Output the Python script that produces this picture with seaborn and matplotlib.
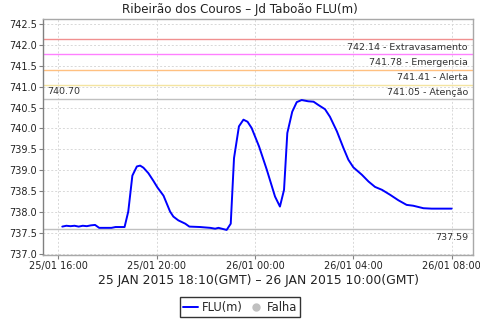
import matplotlib
matplotlib.use("Agg")
import matplotlib.pyplot as plt
import matplotlib.dates as mdates
from matplotlib.lines import Line2D
import pandas as pd
import seaborn as sns

# ---- data ----
times = [
    "2015-01-25 16:10", "2015-01-25 16:20", "2015-01-25 16:30", "2015-01-25 16:40",
    "2015-01-25 16:50", "2015-01-25 17:00", "2015-01-25 17:10", "2015-01-25 17:20",
    "2015-01-25 17:30", "2015-01-25 17:40", "2015-01-25 17:50", "2015-01-25 18:00",
    "2015-01-25 18:10", "2015-01-25 18:20", "2015-01-25 18:30", "2015-01-25 18:42",
    "2015-01-25 18:51", "2015-01-25 19:01", "2015-01-25 19:12", "2015-01-25 19:20",
    "2015-01-25 19:28", "2015-01-25 19:40", "2015-01-25 19:52", "2015-01-25 20:02",
    "2015-01-25 20:17", "2015-01-25 20:33", "2015-01-25 20:41", "2015-01-25 20:53",
    "2015-01-25 21:10", "2015-01-25 21:20", "2015-01-25 21:46", "2015-01-25 22:11",
    "2015-01-25 22:23", "2015-01-25 22:31", "2015-01-25 22:51", "2015-01-25 23:01",
    "2015-01-25 23:09", "2015-01-25 23:21", "2015-01-25 23:32", "2015-01-25 23:42",
    "2015-01-25 23:52", "2015-01-26 00:10", "2015-01-26 00:29", "2015-01-26 00:49",
    "2015-01-26 01:01", "2015-01-26 01:11", "2015-01-26 01:19", "2015-01-26 01:31",
    "2015-01-26 01:42", "2015-01-26 01:54", "2015-01-26 02:10", "2015-01-26 02:23",
    "2015-01-26 02:35", "2015-01-26 02:51", "2015-01-26 03:03", "2015-01-26 03:20",
    "2015-01-26 03:36", "2015-01-26 03:48", "2015-01-26 04:00", "2015-01-26 04:21",
    "2015-01-26 04:37", "2015-01-26 04:53", "2015-01-26 05:10", "2015-01-26 05:30",
    "2015-01-26 05:50", "2015-01-26 06:10", "2015-01-26 06:26", "2015-01-26 06:51",
    "2015-01-26 07:11", "2015-01-26 08:00",
]
flu = [
    737.65, 737.67, 737.66, 737.67,
    737.65, 737.67, 737.66, 737.68,
    737.69, 737.62, 737.62, 737.62,
    737.62, 737.64, 737.64, 737.64,
    738.01, 738.87, 739.09, 739.11,
    739.06, 738.93, 738.75, 738.59,
    738.39, 738.01, 737.89, 737.80,
    737.72, 737.65, 737.64, 737.62,
    737.60, 737.62, 737.57, 737.72,
    739.29, 740.05, 740.21, 740.16,
    740.01, 739.57, 739.01, 738.37,
    738.13, 738.53, 739.89, 740.40,
    740.63, 740.68, 740.65, 740.64,
    740.56, 740.46, 740.28, 739.93,
    739.53, 739.25, 739.07, 738.89,
    738.73, 738.60, 738.53, 738.41,
    738.28, 738.17, 738.15, 738.09,
    738.08, 738.08,
]
threshold_values = [742.14, 741.78, 741.41, 741.05]
threshold_names = ["Extravasamento", "Emergencia", "Alerta", "Atenção"]
threshold_colors = ["#f09090", "#ff80ff", "#ffc080", "#f4e4a0"]
max_value = 740.70
min_value = 737.59

title = "Ribeirão dos Couros – Jd Taboão FLU(m)"
xlabel = "25 JAN 2015 18:10(GMT) – 26 JAN 2015 10:00(GMT)"
tick_times = ["2015-01-25 16:00", "2015-01-25 20:00", "2015-01-26 00:00",
              "2015-01-26 04:00", "2015-01-26 08:00"]

df = pd.DataFrame({"time": pd.to_datetime(times), "FLU(m)": flu})

sns.set_theme(style="white")
plt.rcParams["font.family"] = ["DejaVu Sans"]

fig = plt.figure(figsize=(4.8, 3.2), dpi=100)
ax = fig.add_axes([43 / 480, 1 - 255 / 320, (473 - 43) / 480, (255 - 19) / 320])

# threshold lines
for v, n, c in zip(threshold_values, threshold_names, threshold_colors):
    ax.axhline(v, color=c, lw=1.0, zorder=2)
    ax.annotate(f"{v:.2f} - {n}", xy=(0.988, v), xycoords=("axes fraction", "data"),
                xytext=(0, -2.5), textcoords="offset points",
                ha="right", va="top", fontsize=6.8, color="#333333")
ax.axhline(max_value, color="#c0c0c0", lw=1.0, zorder=2)
ax.annotate(f"{max_value:.2f}", xy=(0.01, max_value), xycoords=("axes fraction", "data"),
            xytext=(0, 2.5), textcoords="offset points",
            ha="left", va="bottom", fontsize=6.8, color="#333333")
ax.axhline(min_value, color="#c0c0c0", lw=1.0, zorder=2)
ax.annotate(f"{min_value:.2f}", xy=(0.988, min_value), xycoords=("axes fraction", "data"),
            xytext=(0, -2.5), textcoords="offset points",
            ha="right", va="top", fontsize=6.8, color="#333333")

sns.lineplot(data=df, x="time", y="FLU(m)", ax=ax, color="#0000ff", lw=1.4, zorder=3,
             legend=False)

ax.set_ylim(736.97, 742.62)
ax.set_yticks([737.0 + 0.5 * i for i in range(12)])
ax.yaxis.set_major_formatter(matplotlib.ticker.FormatStrFormatter("%.1f"))
ax.set_xlim(pd.Timestamp("2015-01-25 15:23"), pd.Timestamp("2015-01-26 08:52"))
ax.set_xticks(pd.to_datetime(tick_times))
ax.xaxis.set_major_formatter(mdates.DateFormatter("%d/%m %H:%M"))

ax.grid(True, color="#d8d8d8", lw=0.7, linestyle=(0, (2, 2)))
for s in ax.spines.values():
    s.set_color("#a8a8a8")
    s.set_linewidth(1.0)
ax.spines["left"].set_color("#808080")
ax.tick_params(axis="both", which="major", length=3, width=0.8, color="#808080",
               labelsize=7, labelcolor="#222222", pad=1.5, direction="out",
               bottom=True, left=True)

ax.set_ylabel("")
ax.set_xlabel(xlabel, fontsize=8.9, color="#222222", labelpad=2)
fig.suptitle(title, fontsize=8.6, color="#222222", y=0.992, va="top")

handles = [Line2D([0], [0], color="#0000ff", lw=1.4),
           Line2D([0], [0], marker="o", color="none", markerfacecolor="#c0c0c0",
                  markeredgecolor="#c0c0c0", markersize=5)]
leg = fig.legend(handles, ["FLU(m)", "Falha"], loc="lower center",
                 bbox_to_anchor=(0.5, 0.005), ncol=2, fontsize=8.3, frameon=True,
                 fancybox=False, handlelength=1.3, handletextpad=0.3,
                 columnspacing=0.5, borderpad=0.3, borderaxespad=0.1)
leg.get_frame().set_edgecolor("black")
leg.get_frame().set_linewidth(1.0)

fig.savefig("out.png", dpi=100)
